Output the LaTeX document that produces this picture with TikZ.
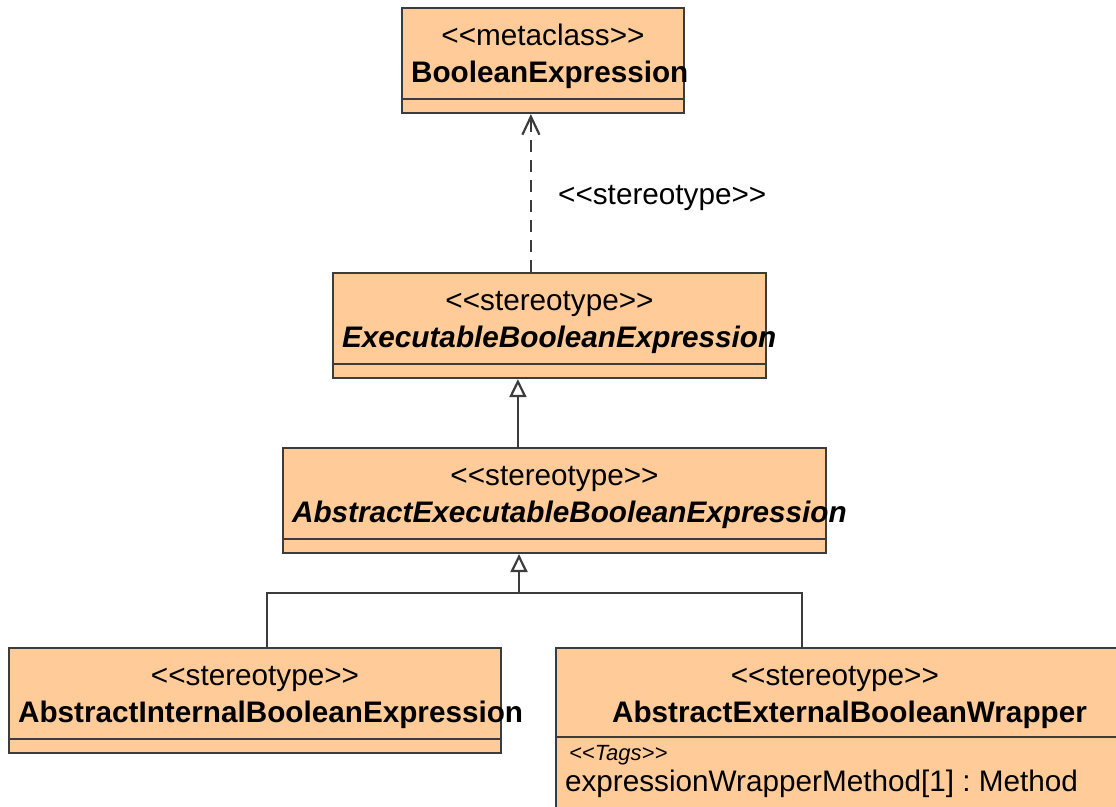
\documentclass[tikz,border=0pt]{standalone}
\usepackage{fontspec}
\newfontfamily\umlfont{Liberation Sans}
\usepackage{tikz}
\usetikzlibrary{arrows.meta,positioning,calc}
\frenchspacing
\definecolor{classfill}{HTML}{FFCC99}
\definecolor{edgegray}{HTML}{3C3C3C}
\tikzset{
    classbox/.style={draw=edgegray, fill=classfill, line width=2.2pt, rectangle, inner sep=0pt},
    compline/.style={draw=edgegray, line width=2.2pt},
    stereo/.style={font=\umlfont\fontsize{29.7}{34}\selectfont, inner sep=0pt, anchor=base},
    cname/.style={font=\umlfont\fontsize{29.7}{34}\selectfont\bfseries, inner sep=0pt, anchor=base west},
    aname/.style={cname, font=\umlfont\fontsize{29.7}{34}\selectfont\bfseries\itshape},
    tagtext/.style={font=\umlfont\fontsize{22}{26}\selectfont\itshape, inner sep=0pt, anchor=base west},
    attr/.style={font=\umlfont\fontsize{29.7}{34}\selectfont, inner sep=0pt, anchor=base west},
    gen/.style={-{Triangle[open, length=18pt, width=17pt]}, draw=edgegray, line width=2.2pt},
    genline/.style={draw=edgegray, line width=2.2pt},
    dep/.style={-{Straight Barb[length=18pt, width=17pt]}, draw=edgegray, line width=2.2pt, dash pattern=on 12pt off 8pt}
}

\begin{document}
\begin{tikzpicture}[x=1pt, y=-1pt]
    \useasboundingbox (0,0) rectangle (1116,806);
    \clip (0,0) rectangle (1116,806);

    % classes
    \node[classbox, minimum width=282pt, minimum height=105pt] (meta) at (543,60.5) {};
    \node[classbox, minimum width=433pt, minimum height=105pt] (exec) at (549.5,325.5) {};
    \node[classbox, minimum width=543pt, minimum height=105pt] (absexec) at (554.5,500.5) {};
    \node[classbox, minimum width=492pt, minimum height=105pt] (internal) at (255,700.5) {};
    \node[classbox, minimum width=600pt, minimum height=190pt] (external) at (856,743) {};

    % empty compartments
    \foreach \c in {meta,exec,absexec,internal}
        \draw[compline] ([yshift=15pt]\c.south west) -- ([yshift=15pt]\c.south east);
    \draw[compline] ([yshift=-90pt]external.north west) -- ([yshift=-90pt]external.north east);

    % headers
    \node[stereo] (meta-st) at ([yshift=-39pt]meta.north) {<<metaclass>>};
    \node[cname] (meta-nm) at ([xshift=10pt, yshift=-76pt]meta.north west) {BooleanExpression};
    \node[stereo] (exec-st) at ([yshift=-39pt]exec.north) {<<stereotype>>};
    \node[aname] (exec-nm) at ([xshift=10pt, yshift=-76pt]exec.north west) {ExecutableBooleanExpression};
    \node[stereo] (absexec-st) at ([yshift=-39pt]absexec.north) {<<stereotype>>};
    \node[aname] (absexec-nm) at ([xshift=10pt, yshift=-76pt]absexec.north west) {AbstractExecutableBooleanExpression};
    \node[stereo] (internal-st) at ([yshift=-39pt]internal.north) {<<stereotype>>};
    \node[cname] (internal-nm) at ([xshift=10pt, yshift=-76pt]internal.north west) {AbstractInternalBooleanExpression};
    \node[stereo] (external-st) at ([xshift=280pt, yshift=-39pt]external.north west) {<<stereotype>>};
    \node[cname] (external-nm) at ([xshift=57pt, yshift=-76pt]external.north west) {AbstractExternalBooleanWrapper};
    \node[tagtext] (external-tags) at ([xshift=14pt, yshift=-114pt]external.north west) {<<Tags>>};
    \node[attr] (external-attr) at ([xshift=10pt, yshift=-145pt]external.north west) {expressionWrapperMethod[1] : Method};

    % dependency
    \draw[dep] ([xshift=199pt]exec.north west) -- ([xshift=199pt]exec.north west |- meta.south);
    \node[stereo, anchor=base west] (dep-lbl) at (558,204) {<<stereotype>>};

    % generalizations
    \coordinate (fork) at (519,593);
    \draw[gen] ([xshift=186pt]exec.south west |- absexec.north) -- ([xshift=186pt]exec.south west);
    \draw[genline] ([xshift=259pt]internal.north west) |- (fork) -| ([xshift=247pt]external.north west);
    \draw[gen] (fork) -- (fork |- absexec.south);
\end{tikzpicture}
\end{document}
